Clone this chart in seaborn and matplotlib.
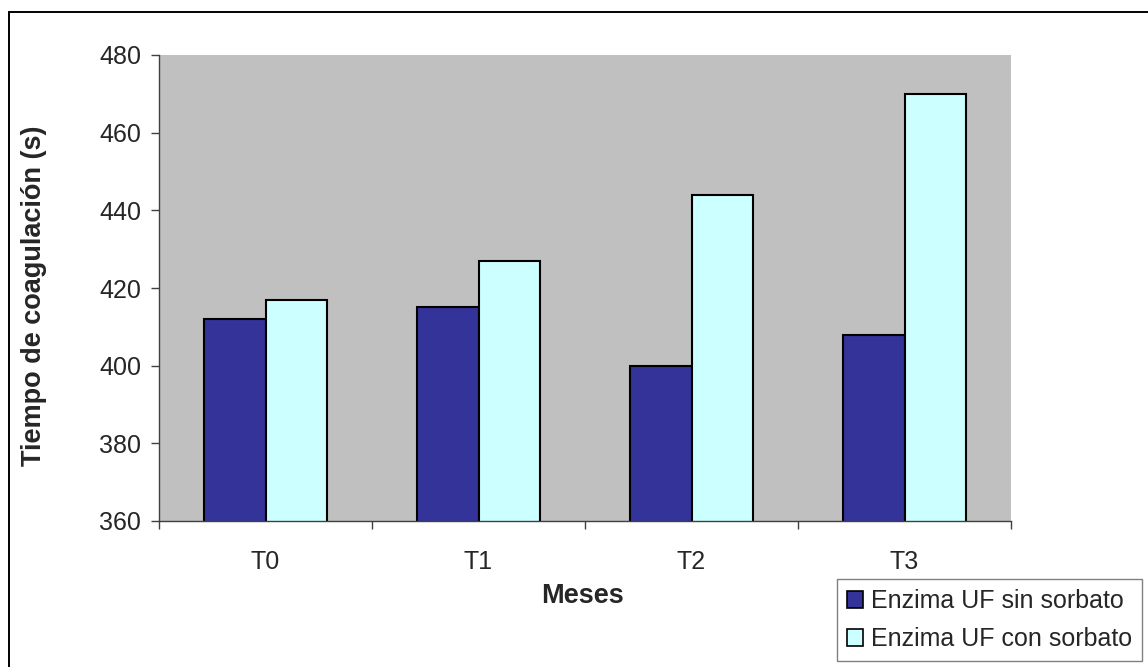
import matplotlib
matplotlib.use("Agg")
import matplotlib.pyplot as plt
from matplotlib.patches import Rectangle
import pandas as pd
import seaborn as sns

# Coagulation time per month for the two enzyme preparations
meses = ["T0", "T1", "T2", "T3"]
sin_sorbato = [412, 415, 400, 408]
con_sorbato = [417, 427, 444, 470]
series = ["Enzima UF sin sorbato", "Enzima UF con sorbato"]
colores = ["#333399", "#CCFFFF"]
y_ticks = [360, 380, 400, 420, 440, 460, 480]

df = pd.DataFrame({
    "Mes": meses * 2,
    "Tiempo": sin_sorbato + con_sorbato,
    "Serie": [series[0]] * len(meses) + [series[1]] * len(meses),
})

sns.set_theme(style="white")
plt.rcParams["font.family"] = ["Liberation Sans", "DejaVu Sans"]

W, H = 1148, 667
fig = plt.figure(figsize=(W / 100, H / 100), dpi=100)
ax = fig.add_axes([159 / W, 1 - 521 / H, (1011 - 159) / W, (521 - 55) / H])
ax.set_facecolor("#C0C0C0")

sns.barplot(data=df, x="Mes", y="Tiempo", hue="Serie", hue_order=series,
            palette=colores, saturation=1, width=0.574,
            edgecolor="black", linewidth=1.5, ax=ax, legend=False)

ax.set_ylim(360, 480)
ax.set_xlim(-0.5, len(meses) - 0.5)
ax.set_yticks(y_ticks)
ax.set_yticklabels([str(v) for v in y_ticks], fontsize=18)

# category labels sit between boundary ticks
ax.set_xticks(range(len(meses)))
ax.set_xticklabels(meses, fontsize=18)
ax.set_xticks([i - 0.5 for i in range(len(meses) + 1)], minor=True)
ax.tick_params(axis="x", which="major", length=0, pad=21)
ax.tick_params(axis="x", which="minor", length=6, width=1, color="#404040",
               direction="out", bottom=True)
ax.tick_params(axis="y", length=6, width=1, color="#404040",
               direction="out", left=True, pad=7)

for side in ["top", "right"]:
    ax.spines[side].set_visible(False)
for side in ["left", "bottom"]:
    ax.spines[side].set_color("#404040")
    ax.spines[side].set_linewidth(1.0)

ax.set_xlabel("")
ax.set_ylabel("")
fig.text(582 / W, 1 - 596 / H, "Meses", fontsize=19.5, fontweight="bold",
         ha="center", va="center")
fig.text(34 / W, 1 - 296 / H, "Tiempo de coagulación (s)", fontsize=19.5,
         fontweight="bold", rotation=90, ha="center", va="center")

# legend from the drawn bar containers
handles = [ax.containers[0].patches[0], ax.containers[1].patches[0]]
leg = fig.legend(handles, series, loc="lower left",
                 bbox_to_anchor=(837 / W, 6 / H), bbox_transform=fig.transFigure,
                 fontsize=18, frameon=True, fancybox=False, shadow=False,
                 handlelength=0.65, handleheight=0.65, handletextpad=0.3,
                 borderpad=0.4, labelspacing=0.55, borderaxespad=0)
leg.get_frame().set_edgecolor("#606060")
leg.get_frame().set_linewidth(1.0)
for h in leg.legend_handles:
    h.set_edgecolor("black")
    h.set_linewidth(1.2)

# chart area frame, open past the right and bottom edges
fig.patches.append(Rectangle((9 / W, -0.2), 1.5, 1 - 12 / H + 0.2,
                             transform=fig.transFigure, fill=False,
                             edgecolor="black", linewidth=1.4))

fig.savefig("out.png", dpi=100)
